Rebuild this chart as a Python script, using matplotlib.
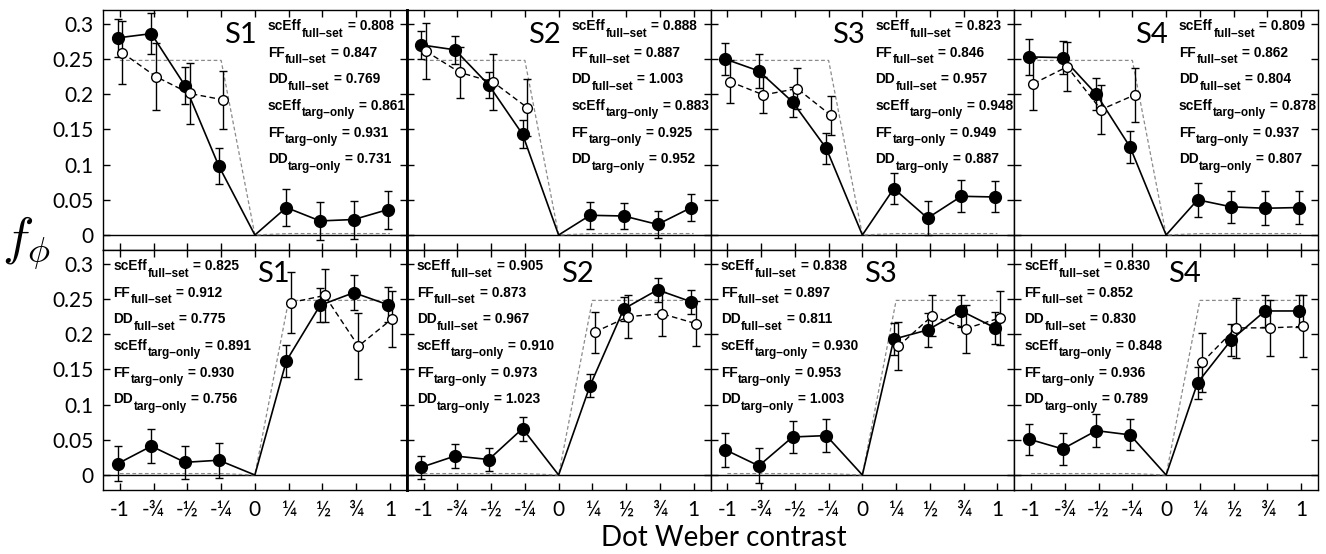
import matplotlib
matplotlib.use("Agg")
import matplotlib.pyplot as plt
import numpy as np

# ---------------- data ----------------
x_vals = [-1, -0.75, -0.5, -0.25, 0, 0.25, 0.5, 0.75, 1]
x_ticklabels = ["-1", "-¾", "-½", "-¼", "0", "¼", "½", "¾", "1"]
y_ticks = [0, 0.05, 0.1, 0.15, 0.2, 0.25, 0.3]
y_ticklabels = ["0", "0.05", "0.1", "0.15", "0.2", "0.25", "0.3"]
subjects = ["S1", "S2", "S3", "S4"]

x_open_top = [-1, -0.75, -0.5, -0.25]
x_open_bottom = [0.25, 0.5, 0.75, 1]

model_top = [0.248, 0.248, 0.248, 0.248, 0.0, 0.002, 0.002, 0.002, 0.002]
model_bottom = [0.002, 0.002, 0.002, 0.002, 0.0, 0.248, 0.248, 0.248, 0.248]

top_filled = [
    [0.280, 0.286, 0.212, 0.098, 0.0, 0.039, 0.020, 0.022, 0.036],
    [0.270, 0.263, 0.213, 0.143, 0.0, 0.028, 0.027, 0.015, 0.039],
    [0.250, 0.233, 0.189, 0.123, 0.0, 0.066, 0.024, 0.055, 0.054],
    [0.253, 0.252, 0.200, 0.125, 0.0, 0.050, 0.040, 0.038, 0.039],
]
top_filled_err = [
    [0.027, 0.029, 0.026, 0.025, 0.0, 0.026, 0.027, 0.027, 0.027],
    [0.020, 0.020, 0.019, 0.020, 0.0, 0.019, 0.019, 0.019, 0.019],
    [0.023, 0.024, 0.021, 0.022, 0.0, 0.022, 0.024, 0.023, 0.022],
    [0.026, 0.024, 0.023, 0.023, 0.0, 0.024, 0.023, 0.024, 0.023],
]
top_open = [
    [0.259, 0.225, 0.201, 0.192],
    [0.261, 0.231, 0.217, 0.181],
    [0.218, 0.199, 0.208, 0.170],
    [0.215, 0.239, 0.178, 0.199],
]
top_open_err = [
    [0.045, 0.048, 0.044, 0.041],
    [0.040, 0.036, 0.040, 0.040],
    [0.030, 0.026, 0.029, 0.028],
    [0.037, 0.035, 0.035, 0.038],
]
bottom_filled = [
    [0.016, 0.041, 0.018, 0.021, 0.0, 0.162, 0.241, 0.259, 0.242],
    [0.011, 0.027, 0.022, 0.066, 0.0, 0.127, 0.236, 0.263, 0.246],
    [0.036, 0.013, 0.054, 0.056, 0.0, 0.193, 0.206, 0.233, 0.209],
    [0.051, 0.037, 0.063, 0.057, 0.0, 0.131, 0.192, 0.233, 0.233],
]
bottom_filled_err = [
    [0.025, 0.024, 0.023, 0.025, 0.0, 0.023, 0.024, 0.025, 0.025],
    [0.016, 0.017, 0.017, 0.017, 0.0, 0.016, 0.017, 0.017, 0.017],
    [0.024, 0.025, 0.023, 0.024, 0.0, 0.023, 0.024, 0.023, 0.023],
    [0.022, 0.023, 0.023, 0.022, 0.0, 0.023, 0.023, 0.023, 0.023],
]
bottom_open = [
    [0.245, 0.255, 0.183, 0.222],
    [0.203, 0.225, 0.229, 0.215],
    [0.183, 0.226, 0.208, 0.223],
    [0.160, 0.209, 0.209, 0.211],
]
bottom_open_err = [
    [0.044, 0.037, 0.047, 0.040],
    [0.029, 0.030, 0.031, 0.032],
    [0.034, 0.029, 0.034, 0.038],
    [0.042, 0.043, 0.040, 0.044],
]

stat_names = ["scEff", "FF", "DD", "scEff", "FF", "DD"]
stat_subs = ["full\u2013set", "full\u2013set", "full\u2013set",
             "targ\u2013only", "targ\u2013only", "targ\u2013only"]
top_stats = [
    ["0.808", "0.847", "0.769", "0.861", "0.931", "0.731"],
    ["0.888", "0.887", "1.003", "0.883", "0.925", "0.952"],
    ["0.823", "0.846", "0.957", "0.948", "0.949", "0.887"],
    ["0.809", "0.862", "0.804", "0.878", "0.937", "0.807"],
]
bottom_stats = [
    ["0.825", "0.912", "0.775", "0.891", "0.930", "0.756"],
    ["0.905", "0.873", "0.967", "0.910", "0.973", "1.023"],
    ["0.838", "0.897", "0.811", "0.930", "0.953", "1.003"],
    ["0.830", "0.852", "0.830", "0.848", "0.936", "0.789"],
]

# ---------------- style ----------------
plt.rcParams["font.family"] = ["Lato", "DejaVu Sans"]

W, H = 1326, 554
fig = plt.figure(figsize=(W / 100, H / 100), dpi=100)
gs = fig.add_gridspec(2, 4, left=103 / W, right=1318 / W,
                      top=1 - 10 / H, bottom=1 - 490 / H,
                      wspace=0, hspace=0)

stat_font = dict(family=["Liberation Sans", "DejaVu Sans"], fontweight="bold")
off = 0.017
for row in range(2):
    for col in range(4):
        ax = fig.add_subplot(gs[row, col])
        if row == 0:
            filled, ferr = top_filled[col], top_filled_err[col]
            opn, oerr, xo = top_open[col], top_open_err[col], x_open_top
            model, stats = model_top, top_stats[col]
        else:
            filled, ferr = bottom_filled[col], bottom_filled_err[col]
            opn, oerr, xo = bottom_open[col], bottom_open_err[col], x_open_bottom
            model, stats = model_bottom, bottom_stats[col]

        ax.axhline(0, color="black", lw=1.0, zorder=1)
        ax.plot(x_vals, model, color="#8a8a8a", lw=0.9, dashes=(3, 2), zorder=2)

        xf = [v - off for v in x_vals]
        xf[4] = 0
        ax.plot(xf, filled, color="black", lw=1.2, zorder=3)
        idx = [i for i in range(len(x_vals)) if i != 4]
        ax.errorbar([xf[i] for i in idx], [filled[i] for i in idx],
                    yerr=[ferr[i] for i in idx], fmt="o", color="black",
                    ms=8.5, elinewidth=1.0, capsize=3, capthick=1.0, zorder=4)

        xo2 = [v + off for v in xo]
        ax.errorbar(xo2, opn, yerr=oerr, fmt="o", mfc="white", mec="black",
                    color="black", ms=7, mew=1.0, elinewidth=1.0, capsize=3,
                    capthick=1.0, zorder=5)
        ax.plot(xo2, opn, color="black", lw=1.0, dashes=(4, 2.5), zorder=4.5)

        ax.set_xlim(-1.125, 1.125)
        ax.set_ylim(-0.0213, 0.3196)
        ax.set_xticks(x_vals)
        ax.set_yticks(y_ticks)
        ax.tick_params(direction="in", top=True, right=True, length=5,
                       width=1.0, labelsize=15, pad=7)
        if row == 1:
            ax.set_xticklabels(x_ticklabels)
        else:
            ax.set_xticklabels([])
        if col == 0:
            ax.set_yticklabels(y_ticklabels)
        else:
            ax.set_yticklabels([])
        for s in ax.spines.values():
            s.set_linewidth(1.0)
        if col == 0:
            ax.spines["right"].set_linewidth(2.0)
        if col == 1:
            ax.spines["left"].set_linewidth(2.0)

        # subject label and stats
        if row == 0:
            ax.text(0.015, 0.284, subjects[col], ha="right", va="center",
                    fontsize=21, zorder=6)
            tx = 0.095
        else:
            ax.text(0.015, 0.286, subjects[col], ha="left", va="center",
                    fontsize=21, zorder=6)
            tx = -1.05
        for i in range(6):
            t1 = ax.text(tx, 0.291 - i * 0.0378, stat_names[i], ha="left",
                         va="baseline", fontsize=9.9, zorder=6, **stat_font)
            t2 = ax.annotate(stat_subs[i], xy=(1, 0), xycoords=t1,
                             xytext=(0.4, -4.6), textcoords="offset points",
                             ha="left", va="bottom", fontsize=8.5, zorder=6,
                             **stat_font)
            ax.annotate(" = " + stats[i], xy=(1, 0), xycoords=(t2, t1),
                        ha="left", va="bottom", fontsize=9.9, zorder=6,
                        **stat_font)

fig.text(27 / W, 1 - 243 / H, r"$f_\phi$", fontsize=38, ha="center",
         va="center", math_fontfamily="cm")
fig.text(724 / W, 1 - 538 / H, "Dot Weber contrast", fontsize=20,
         ha="center", va="center")

fig.savefig("out.png", dpi=100)
